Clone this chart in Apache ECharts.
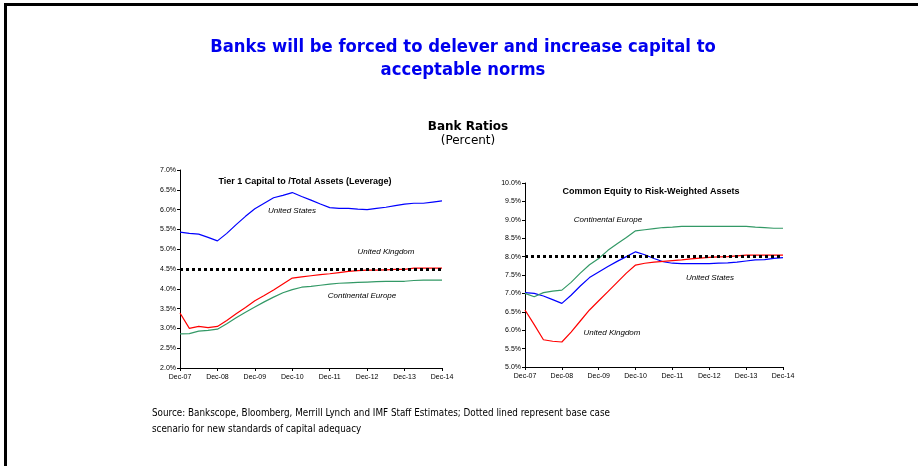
<!DOCTYPE html>
<html>
<head>
<meta charset="utf-8">
<script src="https://cdn.jsdelivr.net/npm/echarts@6/dist/echarts.min.js"></script>
<style>
  html, body { margin: 0; padding: 0; background: #fff; }
  .frame {
    position: absolute; left: 4px; top: 3px; width: 914px; height: 463px;
    border-top: 3px solid #000; border-left: 3px solid #000; box-sizing: border-box;
  }
  #chart { position: absolute; left: 0; top: 0; width: 918px; height: 466px; }
</style>
</head>
<body>
<div class="frame"></div>
<div id="chart"></div>
<script>
// quarterly points, Dec-07 .. Dec-14
const quarters = [
  'Dec-07', 'Mar-08', 'Jun-08', 'Sep-08', 'Dec-08', 'Mar-09', 'Jun-09', 'Sep-09',
  'Dec-09', 'Mar-10', 'Jun-10', 'Sep-10', 'Dec-10', 'Mar-11', 'Jun-11', 'Sep-11',
  'Dec-11', 'Mar-12', 'Jun-12', 'Sep-12', 'Dec-12', 'Mar-13', 'Jun-13', 'Sep-13',
  'Dec-13', 'Mar-14', 'Jun-14', 'Sep-14', 'Dec-14'
]

// Tier 1 capital / total assets (leverage)
const levUS = [5.43, 5.40, 5.38, 5.30, 5.21, 5.40, 5.62, 5.83, 6.02, 6.16, 6.30, 6.36, 6.43, 6.33, 6.24, 6.14,
  6.05, 6.03, 6.03, 6.01, 6.00, 6.03, 6.06, 6.10, 6.14, 6.16, 6.16, 6.19, 6.22]
const levUK = [3.39, 3.00, 3.05, 3.02, 3.05, 3.20, 3.37, 3.53, 3.70, 3.83, 3.97, 4.12, 4.27, 4.30, 4.33, 4.36,
  4.38, 4.41, 4.44, 4.46, 4.47, 4.47, 4.48, 4.49, 4.49, 4.52, 4.52, 4.52, 4.52]
const levEU = [2.86, 2.87, 2.93, 2.95, 2.98, 3.12, 3.27, 3.41, 3.54, 3.67, 3.79, 3.90, 3.98, 4.04, 4.06, 4.09,
  4.12, 4.14, 4.15, 4.16, 4.17, 4.18, 4.19, 4.19, 4.19, 4.21, 4.22, 4.22, 4.22]
const levBase = 4.5

// Common equity / risk-weighted assets
const rwaUS = [7.02, 7.00, 6.93, 6.83, 6.73, 6.95, 7.20, 7.43, 7.58, 7.73, 7.87, 8.00, 8.13, 8.05, 7.95, 7.86,
  7.82, 7.81, 7.81, 7.81, 7.81, 7.82, 7.83, 7.85, 7.88, 7.91, 7.92, 7.95, 7.97]
const rwaUK = [6.55, 6.15, 5.74, 5.70, 5.68, 5.95, 6.25, 6.55, 6.80, 7.05, 7.30, 7.55, 7.77, 7.82, 7.85, 7.87,
  7.89, 7.91, 7.94, 7.96, 7.98, 7.99, 8.00, 8.02, 8.04, 8.04, 8.04, 8.04, 8.04]
const rwaEU = [7.00, 6.91, 7.02, 7.06, 7.09, 7.30, 7.55, 7.78, 7.95, 8.17, 8.35, 8.52, 8.70, 8.73, 8.76, 8.79,
  8.80, 8.82, 8.82, 8.82, 8.82, 8.82, 8.82, 8.82, 8.82, 8.80, 8.79, 8.77, 8.77]
const rwaBase = 8.0

const lev = { min: 2, max: 7 }
const rwa = { min: 5, max: 10 }

const BLUE = '#0000FF', RED = '#FF0000', GREEN = '#339966'
const axisFont = 'Liberation Sans'
const textColor = '#000'

const chart = echarts.init(document.getElementById('chart'))

const xAxisFor = (gridIndex) => ({
  type: 'category', gridIndex, data: quarters, boundaryGap: false,
  axisLine: { lineStyle: { color: '#000', width: 1 } },
  axisTick: { interval: 3, length: 3, lineStyle: { color: '#000' } },
  axisLabel: { interval: 3, color: textColor, fontFamily: axisFont, fontSize: 7, margin: 6 },
  splitLine: { show: false }
})

const yAxisFor = (gridIndex, r) => ({
  type: 'value', gridIndex, min: r.min, max: r.max, interval: 0.5,
  axisLine: { show: true, lineStyle: { color: '#000', width: 1 } },
  axisTick: { show: true, length: 3, lineStyle: { color: '#000' } },
  axisLabel: { color: textColor, fontFamily: axisFont, fontSize: 7, margin: 4,
    formatter: v => v.toFixed(1) + '%' },
  splitLine: { show: false }
})

const line = (name, data, color, xi, baseVal) => {
  const s = {
    name, type: 'line', data, xAxisIndex: xi, yAxisIndex: xi,
    symbol: 'none', smooth: false, z: 3,
    lineStyle: { color, width: 1.2 }, itemStyle: { color }
  }
  if (baseVal != null) {
    s.markLine = {
      silent: true, symbol: 'none', label: { show: false }, z: 5,
      lineStyle: { color: '#000', type: [3, 3], width: 3 },
      data: [{ yAxis: baseVal }]
    }
  }
  return s
}

// annotation text centred on (x, y)
const note = (text, x, y, font) => ({
  type: 'text', x, y,
  style: {
    text, fill: '#000', font: font || 'italic 8px "Liberation Sans"',
    align: 'center', verticalAlign: 'middle'
  }
})

chart.setOption({
  animation: false,
  backgroundColor: 'transparent',
  title: [
    {
      text: 'Banks will be forced to delever and increase capital to\nacceptable norms',
      left: 463, top: 36, textAlign: 'center', padding: 0,
      textStyle: { color: '#0000EE', fontFamily: 'DejaVu Sans Condensed', fontWeight: 'bold', fontSize: 18.3, lineHeight: 23 }
    },
    {
      text: 'Bank Ratios', subtext: '(Percent)',
      left: 468, top: 121, textAlign: 'center', itemGap: 2, padding: 0,
      textStyle: { color: '#000', fontFamily: 'DejaVu Sans', fontWeight: 'bold', fontSize: 12 },
      subtextStyle: { color: '#000', fontFamily: 'DejaVu Sans', fontSize: 12 }
    },
    {
      text: 'Source: Bankscope, Bloomberg, Merrill Lynch and IMF Staff Estimates; Dotted lined represent base case\nscenario for new standards of capital adequacy',
      left: 152, top: 405, padding: 0,
      textStyle: { color: '#000', fontFamily: 'DejaVu Sans Condensed', fontWeight: 'normal', fontSize: 9.8, lineHeight: 16 }
    }
  ],
  grid: [
    { left: 180, top: 170, width: 262, height: 198 },
    { left: 525, top: 183, width: 258, height: 184 }
  ],
  xAxis: [xAxisFor(0), xAxisFor(1)],
  yAxis: [yAxisFor(0, lev), yAxisFor(1, rwa)],
  series: [
    line('United States', levUS, BLUE, 0),
    line('United Kingdom', levUK, RED, 0, levBase),
    line('Continental Europe', levEU, GREEN, 0),
    line('United States', rwaUS, BLUE, 1),
    line('United Kingdom', rwaUK, RED, 1, rwaBase),
    line('Continental Europe', rwaEU, GREEN, 1)
  ],
  graphic: [
    note('Tier 1 Capital to /Total Assets (Leverage)', 305, 182, 'bold 9px "Liberation Sans"'),
    note('United States', 292, 211),
    note('United Kingdom', 386, 252),
    note('Continental Europe', 362, 296),
    note('Common Equity to Risk-Weighted Assets', 651, 192, 'bold 9px "Liberation Sans"'),
    note('Continental Europe', 608, 220),
    note('United States', 710, 278),
    note('United Kingdom', 612, 333)
  ]
})
</script>
</body>
</html>
